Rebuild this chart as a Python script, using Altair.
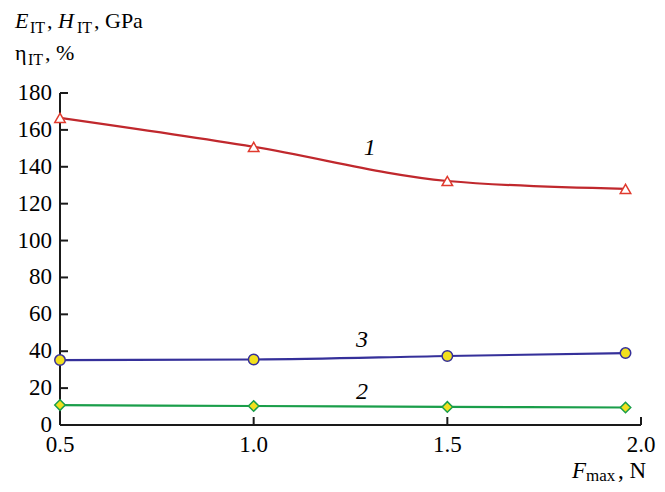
import altair as alt
import pandas as pd

# data
force = [0.5, 1.0, 1.5, 1.96]
series1 = [166.5, 150.8, 132.3, 128.0]   # E_IT
series2 = [10.8, 10.3, 9.8, 9.5]         # H_IT
series3 = [35.2, 35.5, 37.4, 39.0]       # eta_IT
series_names = ["1", "2", "3"]
y_ticks = [0, 20, 40, 60, 80, 100, 120, 140, 160, 180]
y_tick_labels = ["0", "20", "40", "60", "80", "100", "120", "140", "160", "180"]
x_ticks = [0.5, 1.0, 1.5, 2.0]
x_tick_labels = ["0.5", "1.0", "1.5", "2.0"]
curve_labels = ["1", "3", "2"]
curve_label_x = [1.3, 1.28, 1.28]
curve_label_y = [150, 46, 18]

rows = []
for name, vals in zip(series_names, [series1, series2, series3]):
    for f, v in zip(force, vals):
        rows.append({"F": f, "v": v, "s": name})
df = pd.DataFrame(rows)

FONT = "Liberation Serif"
W, H = 581, 332
AX = "#1a1a1a"

xs = alt.Scale(domain=[0.5, 2.0], nice=False, zero=False)
ys = alt.Scale(domain=[0, 180], nice=False)

colors = alt.Scale(domain=series_names, range=["#c0282d", "#1a9e4a", "#35309a"])
markstroke = alt.Scale(domain=series_names, range=["#e03a2e", "#1a9e4a", "#35309a"])
fills = alt.Scale(domain=series_names, range=["#ffffff", "#f2e01e", "#f2e01e"])
shapes = alt.Scale(domain=series_names, range=["triangle-up", "diamond", "circle"])

base = alt.Chart(df)

lines = base.mark_line(interpolate="monotone", strokeWidth=2.2).encode(
    x=alt.X("F:Q", scale=xs, axis=None),
    y=alt.Y("v:Q", scale=ys, axis=None),
    color=alt.Color("s:N", scale=colors, legend=None),
    detail="s:N",
)

points = base.mark_point(filled=False, size=110, strokeWidth=1.5, opacity=1).encode(
    x=alt.X("F:Q", scale=xs, axis=None),
    y=alt.Y("v:Q", scale=ys, axis=None),
    shape=alt.Shape("s:N", scale=shapes, legend=None),
    stroke=alt.Stroke("s:N", scale=markstroke, legend=None),
    fill=alt.Fill("s:N", scale=fills, legend=None),
)

# axis lines
ydom = alt.Chart(pd.DataFrame({"a": [y_ticks[0]], "b": [y_ticks[-1]]})).mark_rule(
    color=AX, strokeWidth=2).encode(
    y=alt.Y("a:Q", scale=ys, axis=None), y2="b:Q", x=alt.value(0))
xdom = alt.Chart(pd.DataFrame({"a": [x_ticks[0]], "b": [x_ticks[-1]]})).mark_rule(
    color=AX, strokeWidth=2).encode(
    x=alt.X("a:Q", scale=xs, axis=None), x2="b:Q", y=alt.value(H))

ytick_df = pd.DataFrame({"t": y_ticks, "lab": y_tick_labels})
yt = alt.Chart(ytick_df).mark_rule(color=AX, strokeWidth=2).encode(
    y=alt.Y("t:Q", scale=ys, axis=None), x=alt.value(0), x2=alt.value(8))
ylab = alt.Chart(ytick_df).mark_text(font=FONT, fontSize=23, color="black",
                                     align="right", baseline="middle").encode(
    y=alt.Y("t:Q", scale=ys, axis=None), x=alt.value(-8), text="lab:N")

xtick_df = pd.DataFrame({"t": x_ticks, "lab": x_tick_labels})
xt = alt.Chart(xtick_df).mark_rule(color=AX, strokeWidth=2).encode(
    x=alt.X("t:Q", scale=xs, axis=None), y=alt.value(H), y2=alt.value(H - 8))
xlab = alt.Chart(xtick_df).mark_text(font=FONT, fontSize=23, color="black",
                                     align="center", baseline="top").encode(
    x=alt.X("t:Q", scale=xs, axis=None), y=alt.value(H + 9), text="lab:N")

lab_df = pd.DataFrame({"x": curve_label_x, "y": curve_label_y, "t": curve_labels})
labs = alt.Chart(lab_df).mark_text(font=FONT, fontSize=24, fontStyle="italic",
                                   color="black", baseline="middle").encode(
    x=alt.X("x:Q", scale=xs, axis=None), y=alt.Y("y:Q", scale=ys, axis=None), text="t:N")

def txt(s, x, y, size=22, italic=False):
    return alt.Chart(pd.DataFrame({"t": [s]})).mark_text(
        font=FONT, fontSize=size, fontStyle="italic" if italic else "normal",
        color="black", align="left", baseline="alphabetic").encode(
        x=alt.value(x), y=alt.value(y), text="t:N")

ox, oy = 60, 93
title_parts = [
    txt("E", 15 - ox, 28 - oy, italic=True),
    txt("IT", 30 - ox, 33 - oy, size=16),
    txt(",", 47 - ox, 28 - oy),
    txt("H", 58 - ox, 28 - oy, italic=True),
    txt("IT", 77 - ox, 33 - oy, size=16),
    txt(", GPa", 94 - ox, 28 - oy),
    txt("η", 15 - ox, 60 - oy),
    txt("IT", 28 - ox, 65 - oy, size=16),
    txt(", %", 45 - ox, 60 - oy),
    txt("F", 572 - ox, 478 - oy, size=23, italic=True),
    txt("max", 586 - ox, 481 - oy, size=17),
    txt(", N", 618 - ox, 478 - oy, size=23),
]

chart = alt.layer(lines, ydom, xdom, yt, xt, ylab, xlab, points, labs, *title_parts).properties(
    width=W, height=H,
    autosize=alt.AutoSizeParams(type="none"),
    padding={"left": 52, "top": 85, "right": 16, "bottom": 59},
    background="white",
).configure_view(stroke=None)

chart.save("out.html", embed_options={"renderer": "svg", "actions": False})
